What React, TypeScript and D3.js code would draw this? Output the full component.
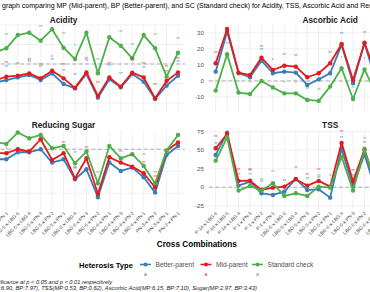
import React, { useEffect, useRef } from 'react'
import * as d3 from 'd3'

const crosses = [
  'P-14-x-LBG-6', 'P-14-x-LBG-5', 'P-14-x-LBG-4', 'P-1-x-PN-3', 'P-1-x-PN-2', 'P-1-x-PN-1',
  'LBG-5-x-LBG-6', 'LBG-5-x-LBG-4', 'LBG-5-x-PN-3', 'LBG-5-x-PN-2', 'LBG-5-x-PN-1',
  'LBG-6-x-LBG-4', 'LBG-6-x-PN-3', 'LBG-6-x-PN-2', 'LBG-6-x-PN-1',
  'LBG-4-x-PN-3', 'LBG-4-x-PN-2', 'LBG-4-x-PN-1', 'PN-3-x-PN-2', 'PN-3-x-PN-1', 'PN-2-x-PN-1'
]
const heterosisTypes = ['Better-parent', 'Mid-parent', 'Standard check']
const typeColors = ['#377eb8', '#e41a1c', '#4daf4a']

const _ = null
// Acidity
const acidityBP = [_, _, _, _, -19.1, -16.4, -13.7, -11.3, -16.4, -9.6, -20.5, -25.0, -10.3, -34.5, -15.7, -23.9, -10.3, -18.1, -35.9, -22.2, -12.0]
const acidityMP = [_, _, _, _, -17.1, -13.0, -12.0, -9.6, -14.7, -6.8, -14.7, -24.5, -8.6, -32.8, -13.7, -23.2, -8.9, -13.7, -35.2, -17.4, -8.6]
const aciditySC = [_, _, _, _, 12.0, 16.1, 29.7, 32.1, 23.9, 35.6, 16.7, 5.1, 32.1, -9.5, 27.4, 18.8, 5.8, 29.7, 16.1, -13.0, 11.6]
const aciditySigBP = ['', '', '', '', '', '**', '**', '**', '**', '**', '**', '**', '**', '', '**', '**', '**', '**', '', '**', '**']
const aciditySigMP = ['', '', '', '', '', '**', '', '**', '**', '*', '**', '', '**', '**', '**', '', '**', '**', '**', '**', '**']
const aciditySigSC = ['', '', '', '', '', '**', '', '', '**', '', '**', '*', '', '**', '**', '**', '**', '', '**', '', '**']

// Ascorbic Acid
const ascorbicBP = [5.8, 30.6, 4.8, 2.3, 12.6, 4.8, 5.8, 5.2, -2.5, 1.0, 4.8, 22.4, -1.4, 23.4, 0, _, _, _, _, _, _]
const ascorbicMP = [11.0, 32.3, 5.2, 3.7, 14.5, 6.8, 9.5, 8.9, 2.3, 4.8, 11.0, 23.0, 0.6, 23.8, 4, _, _, _, _, _, _]
const ascorbicSC = [-6.0, 16.6, -7.2, -8.1, 0, -4.1, -7.7, -7.7, -11.8, -12.4, -3.5, 7.9, -11.2, 7.2, -8, _, _, _, _, _, _]
const ascorbicSigBP = ['', '', '', '', '**', '', '', '', '', '', '', '**', '', '**', '', '', '', '', '', '', '']
const ascorbicSigMP = ['**', '', '', '', '**', '*', '**', '**', '', '', '**', '', '', '', '', '', '', '', '', '', '']
const ascorbicSigSC = ['', '**', '*', '*', '', '', '*', '*', '**', '**', '', '*', '**', '*', '', '', '', '', '', '', '']

// Reducing Sugar
const sugarBP = [_, _, _, _, -9.1, -9.1, -2.7, -2.7, 0, -12.1, -9.1, -27.3, -18.2, -43.6, -12.1, -19.7, -16.7, -25.5, -39.4, -5.2, 3.0]
const sugarMP = [_, _, _, _, -3.6, -3.6, 0, -2.1, 9.1, -9.7, -3.6, -26.4, -8.2, -40.6, -7.3, -12.1, -15.8, -21.8, -34.8, -1.2, 6.1]
const sugarSC = [_, _, _, _, 6.7, 4.8, 15.2, 10, 13, 0.9, 3, -12.7, -2.1, -30.9, 3, -8.2, -4.5, -15.2, -30.9, -1.2, 13]
const sugarSigBP = ['', '', '', '', '', '*', '', '', '', '', '', '**', '**', '', '', '**', '', '', '', '', '']
const sugarSigMP = ['', '', '', '', '', '', '', '', '**', '', '**', '**', '**', '', '', '**', '**', '**', '**', '', '']
const sugarSigSC = ['', '', '', '', '', '', '', '', '', '', '', '**', '', '**', '', '', '', '**', '**', '', '']

// TSS
const tssBP = [43.7, 73.9, 2.3, 7.7, -8.1, -10.4, -5.9, 11.3, -3.6, -2.7, -14.0, 52, 0.9, 44.6, -6, _, _, _, _, _, _]
const tssMP = [52.7, 72.0, 8.6, 9.0, -3.6, -0.5, 0.9, 10.8, 2.3, 8.6, 0.9, 60, 7.7, 51.4, 2, _, _, _, _, _, _]
const tssSC = [36, 67.6, -4.5, 1.8, -4.5, 5.4, -11.7, -8.1, -11.7, 0.9, -0.5, 41.4, -4.5, 50.5, 5, _, _, _, _, _, _]
const tssSigBP = ['**', '', '**', '**', '**', '**', '**', '**', '**', '**', '', '**', '**', '**', '', '', '', '', '', '', '']
const tssSigMP = ['**', '', '**', '**', '', '', '', '', '**', '**', '*', '**', '**', '', '', '', '', '', '', '', '']
const tssSigSC = ['', '**', '', '**', '**', '**', '', '', '', '**', '', '', '', '**', '', '', '', '', '', '', '']

const yTicks = {
  acidity: [-40, -20, 0, 20, 40],
  ascorbic: [-10, 0, 10, 20, 30],
  sugar: [-40, -20, 0],
  tss: [-25, 0, 25, 50, 75]
}

const font = 'Liberation Sans, Arial, Helvetica, sans-serif'

const App = () => {
  const ref = useRef<SVGSVGElement>(null)

  useEffect(() => {
    const svg = d3.select(ref.current)
    svg.selectAll('*').remove()

    const cols = [[-57.8, 184.9], [208.8, 451.5]]
    const rows = [[112, 25], [210, 130]]

    const panels = [
      { title: 'Acidity', series: [acidityBP, acidityMP, aciditySC], sig: [aciditySigBP, aciditySigMP, aciditySigSC], col: 0, row: 0, domain: [-49.2, 40], ticks: yTicks.acidity, gap: 13 },
      { title: 'Ascorbic Acid', series: [ascorbicBP, ascorbicMP, ascorbicSC], sig: [ascorbicSigBP, ascorbicSigMP, ascorbicSigSC], col: 1, row: 0, domain: [-19.3, 34.8], ticks: yTicks.ascorbic, gap: 10 },
      { title: 'Reducing Sugar', series: [sugarBP, sugarMP, sugarSC], sig: [sugarSigBP, sugarSigMP, sugarSigSC], col: 0, row: 1, domain: [-55.2, 17.5], ticks: yTicks.sugar, gap: 10 },
      { title: 'TSS', series: [tssBP, tssMP, tssSC], sig: [tssSigBP, tssSigMP, tssSigSC], col: 1, row: 1, domain: [-30.7, 77.4], ticks: yTicks.tss, gap: 10.5 }
    ]

    const defs = svg.append('defs')

    panels.forEach((p, pi) => {
      const x = d3.scalePoint<string>().domain(crosses).range(cols[p.col] as [number, number]).padding(0.6)
      const y = d3.scaleLinear().domain(p.domain).range(rows[p.row])
      const [x0, x1] = cols[p.col]
      const [yb, yt] = rows[p.row]
      const g = svg.append('g')

      defs.append('clipPath').attr('id', 'clip' + pi)
        .append('rect').attr('x', x0).attr('y', yt).attr('width', x1 - x0).attr('height', yb - yt)

      // grid
      g.selectAll('.hgrid').data(p.ticks).enter().append('line')
        .attr('x1', x0).attr('x2', x1)
        .attr('y1', d => y(d)).attr('y2', d => y(d))
        .attr('stroke', '#e6e6e6').attr('stroke-width', 0.6)
      g.selectAll('.vgrid').data(crosses).enter().append('line')
        .attr('x1', d => x(d)!).attr('x2', d => x(d)!)
        .attr('y1', yt).attr('y2', yb)
        .attr('stroke', '#e6e6e6').attr('stroke-width', 0.6)

      // zero reference
      g.append('line')
        .attr('x1', x0).attr('x2', x1).attr('y1', y(0)).attr('y2', y(0))
        .attr('stroke', '#a6a6a6').attr('stroke-width', 0.9).attr('stroke-dasharray', '4,2.5')

      // strip title
      g.append('text')
        .attr('x', (x0 + x1) / 2).attr('y', yt - 2)
        .attr('text-anchor', 'middle').attr('font-weight', 'bold').attr('font-size', 8.3)
        .attr('font-family', font).attr('fill', '#1a1a1a')
        .text(p.title)

      // y axis labels, the left column's fall outside the cropped view
      if (x0 - 5 > 0) {
        g.selectAll('.ylab').data(p.ticks).enter().append('text')
          .attr('x', x0 - 5).attr('y', d => y(d) + 2)
          .attr('text-anchor', 'end').attr('font-size', 6).attr('font-family', font).attr('fill', '#4d4d4d')
          .text(d => d)
      }

      // x labels only on bottom row
      if (p.row === 1) {
        g.selectAll('.xlab').data(crosses).enter().append('text')
          .attr('transform', d => `translate(${x(d)! + 2},${yb + 3.5}) rotate(-45)`)
          .attr('text-anchor', 'end').attr('font-size', 4.8).attr('font-family', font).attr('fill', '#4d4d4d')
          .text(d => d)
      }

      const inner = g.append('g').attr('clip-path', `url(#clip${pi})`)
      const line = d3.line<number | null>()
        .defined(d => d !== null)
        .x((d, i) => x(crosses[i])!)
        .y(d => y(d as number))

      p.series.forEach((vals, si) => {
        inner.append('path').datum(vals)
          .attr('d', line).attr('fill', 'none')
          .attr('stroke', typeColors[si]).attr('stroke-width', 1.8).attr('stroke-linejoin', 'round')
        inner.selectAll('.pt' + si).data(vals.map((v, i) => ({ v, i })).filter(d => d.v !== null))
          .enter().append('circle')
          .attr('cx', d => x(crosses[d.i])!).attr('cy', d => y(d.v as number)).attr('r', 2.2)
          .attr('fill', typeColors[si])
      })

      p.series.forEach((vals, si) => {
        inner.selectAll('.sig' + si)
          .data(vals.map((v, i) => ({ v, i, s: p.sig[si][i] })).filter(d => d.v !== null && d.s))
          .enter().append('text')
          .attr('x', d => x(crosses[d.i])!).attr('y', d => y(d.v as number) - p.gap + 1.5)
          .attr('text-anchor', 'middle').attr('font-size', 4.6).attr('font-family', font)
          .attr('fill', typeColors[si]).attr('opacity', 0.85)
          .text(d => d.s)
      })
    })

    // title
    svg.append('text')
      .attr('x', 2).attr('y', 7.5).attr('font-size', 7).attr('font-family', font).attr('fill', '#000')
      .text('graph comparing MP (Mid-parent), BP (Better-parent), and SC (Standard check) for Acidity, TSS, Ascorbic Acid and Reducing Sugar')

    svg.append('text')
      .attr('x', 196.8).attr('y', 246.5).attr('text-anchor', 'middle')
      .attr('font-size', 8.2).attr('font-weight', 'bold').attr('font-family', font).attr('fill', '#000')
      .text('Cross Combinations')

    // legend
    const legend = svg.append('g')
    legend.append('text')
      .attr('x', 79).attr('y', 268).attr('font-size', 7.6).attr('font-weight', 'bold')
      .attr('font-family', font).attr('fill', '#000').text('Heterosis Type')
    const keyX = [145.5, 206, 257.5]
    heterosisTypes.forEach((t, i) => {
      legend.append('line')
        .attr('x1', keyX[i] - 5.5).attr('x2', keyX[i] + 5.5).attr('y1', 264.5).attr('y2', 264.5)
        .attr('stroke', typeColors[i]).attr('stroke-width', 1.6)
      legend.append('circle').attr('cx', keyX[i]).attr('cy', 264.5).attr('r', 2).attr('fill', typeColors[i])
      legend.append('text')
        .attr('x', keyX[i]).attr('y', 276).attr('text-anchor', 'middle').attr('font-size', 5)
        .attr('font-family', font).attr('fill', typeColors[i]).text('a')
      legend.append('text')
        .attr('x', keyX[i] + 10).attr('y', 267).attr('font-size', 6.6)
        .attr('font-family', font).attr('fill', '#4d4d4d').text(t)
    })

    // caption
    svg.append('text')
      .attr('x', 112).attr('y', 283.5).attr('text-anchor', 'end').attr('font-size', 5.7)
      .attr('font-style', 'italic').attr('font-family', font).attr('fill', '#1a1a1a')
      .text('* and ** indicate significance at p < 0.05 and p < 0.01 respectively')
    svg.append('text')
      .attr('x', 257).attr('y', 289.5).attr('text-anchor', 'end').attr('font-size', 5.8)
      .attr('font-style', 'italic').attr('font-family', font).attr('fill', '#1a1a1a')
      .text('SE values: Acidity(MP:6.90, BP:7.97), TSS(MP:0.53, BP:0.62), Ascorbic Acid(MP:6.15, BP:7.10), Sugar(MP:2.97, BP:3.43)')
  }, [])

  return (
    <svg
      ref={ref}
      width={370}
      height={292}
      style={{ position: 'absolute', left: 0, top: 0, background: '#fff' }}
    />
  )
}

export default App
